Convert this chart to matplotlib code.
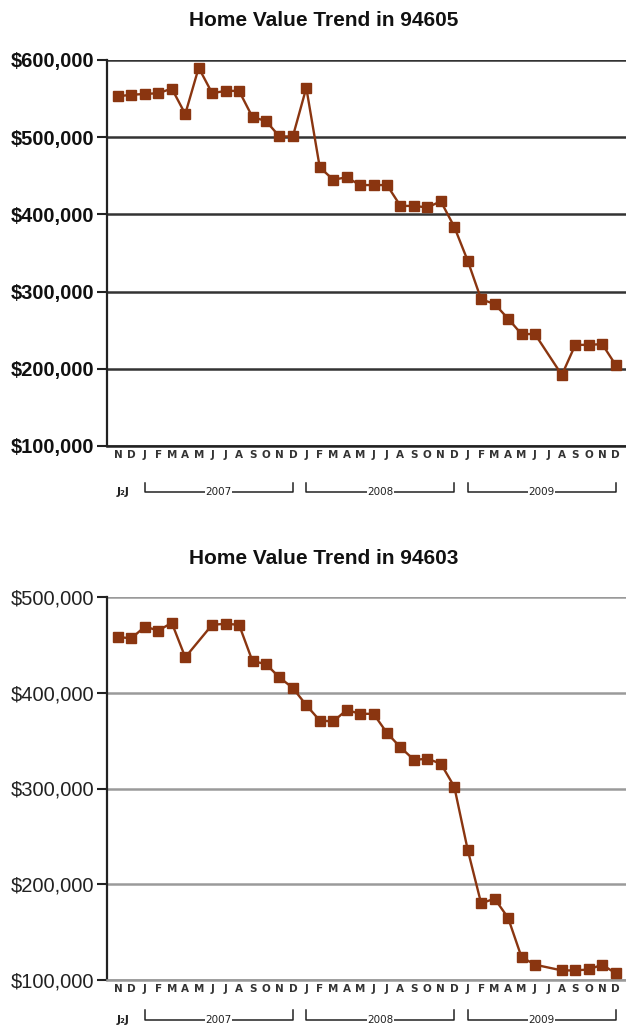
import numpy as np
import matplotlib
matplotlib.use("Agg")
import matplotlib.pyplot as plt
import matplotlib.transforms as mtransforms

# ---------------- data ----------------
months = ["N", "D",
          "J", "F", "M", "A", "M", "J", "J", "A", "S", "O", "N", "D",
          "J", "F", "M", "A", "M", "J", "J", "A", "S", "O", "N", "D",
          "J", "F", "M", "A", "M", "J", "J", "A", "S", "O", "N", "D"]
years = ["2007", "2008", "2009"]
year_start = [2, 14, 26]
year_end = [13, 25, 37]
first_label = "J\u2082J"

# values in dollars; None = no data point for that month
zip_94605 = [553000, 555000, 556000, 557000, 563000, 530000, 590000, 557000, 560000, 560000,
             526000, 521000, 501000, 501000, 564000, 461000, 445000, 448000, 438000, 438000,
             438000, 411000, 411000, 409000, 417000, 384000, 340000, 290000, 284000, 265000,
             245000, 245000, None, 192000, 231000, 231000, 232000, 205000]
zip_94603 = [458000, 457000, 469000, 465000, 473000, 437000, None, 471000, 472000, 471000,
             433000, 430000, 416000, 405000, 387000, 371000, 370000, 382000, 378000, 378000,
             358000, 343000, 330000, 331000, 326000, 302000, 236000, 180000, 185000, 165000,
             124000, 116000, None, 110000, 110000, 111000, 116000, 107000]

titles = ["Home Value Trend in 94605", "Home Value Trend in 94603"]
yticks_top = [100000, 200000, 300000, 400000, 500000, 600000]
yticks_bot = [100000, 200000, 300000, 400000, 500000]

LINE = "#8a3510"
W, H = 626, 1032
fig = plt.figure(figsize=(W / 100, H / 100), dpi=100)

def fx(px):
    return px / W

def fy(py):
    return 1 - py / H

def make_panel(ax_box, values, yticks, grid_color, grid_lw, label_weight, label_color,
               title, title_y, bracket_y, bracket_top):
    left, top, right, bottom = ax_box
    ax = fig.add_axes([fx(left), fy(bottom), fx(right) - fx(left), fy(top) - fy(bottom)])
    # x mapping: index i at pixel 118 + 13.45*i
    x0, dx = 118.0, 13.45
    ax.set_xlim((left - x0) / dx, (right - x0) / dx)
    ax.set_ylim(min(yticks), max(yticks))
    idx = [i for i, v in enumerate(values) if v is not None]
    vals = [v for v in values if v is not None]
    ax.plot(idx, vals, color=LINE, lw=1.7, marker="s", markersize=7,
            markerfacecolor=LINE, markeredgecolor=LINE, zorder=5, clip_on=False)
    for t in yticks:
        ax.axhline(t, color=grid_color, lw=grid_lw, zorder=1)
    ax.set_yticks(yticks)
    ax.set_yticklabels(["${:,}".format(t) for t in yticks], fontsize=14.5,
                       fontweight=label_weight, family="Liberation Sans", color=label_color)
    ax.tick_params(axis="y", direction="out", length=7, width=1.5, color="#222", pad=2)
    ax.set_xticks(range(len(months)))
    ax.set_xticklabels(months, fontsize=7.5, fontweight="bold", color="#333",
                       family="DejaVu Sans")
    ax.tick_params(axis="x", length=0, pad=3)
    for s in ["top", "right"]:
        ax.spines[s].set_visible(False)
    ax.spines["left"].set_color("#222")
    ax.spines["left"].set_linewidth(1.6)
    ax.spines["bottom"].set_color(grid_color if grid_color != "#333333" else "#222")
    ax.spines["bottom"].set_linewidth(1.8)
    # year brackets
    trans = mtransforms.blended_transform_factory(ax.transData, ax.transAxes)
    by = (bottom - bracket_y) / (bottom - top)
    bt = (bottom - bracket_top) / (bottom - top)
    for yr, a, b in zip(years, year_start, year_end):
        ax.plot([a, a, b, b], [bt, by, by, bt], color="#222", lw=1.1,
                transform=trans, clip_on=False)
        ax.text((a + b) / 2, by, yr, transform=trans, ha="center", va="center",
                fontsize=7.5, color="#222", family="DejaVu Sans",
                bbox=dict(facecolor="white", edgecolor="none", pad=0.3))
    ax.text(0.4, by, first_label, transform=trans, ha="center", va="center",
            fontsize=8, fontweight="bold", color="#222", family="DejaVu Sans")
    fig.text(fx(324), fy(title_y), title, ha="center", va="center", fontsize=15,
             fontweight="bold", family="Liberation Sans", color="#111")
    return ax

make_panel((107, 60, 626, 446), zip_94605, yticks_top, "#333333", 1.8, "bold", "#111",
           titles[0], 20, 492, 483)
make_panel((107, 597, 626, 980), zip_94603, yticks_bot, "#9a9a9a", 1.8, "normal", "#222",
           titles[1], 559, 1020, 1010)

fig.savefig("out.png", dpi=100)
